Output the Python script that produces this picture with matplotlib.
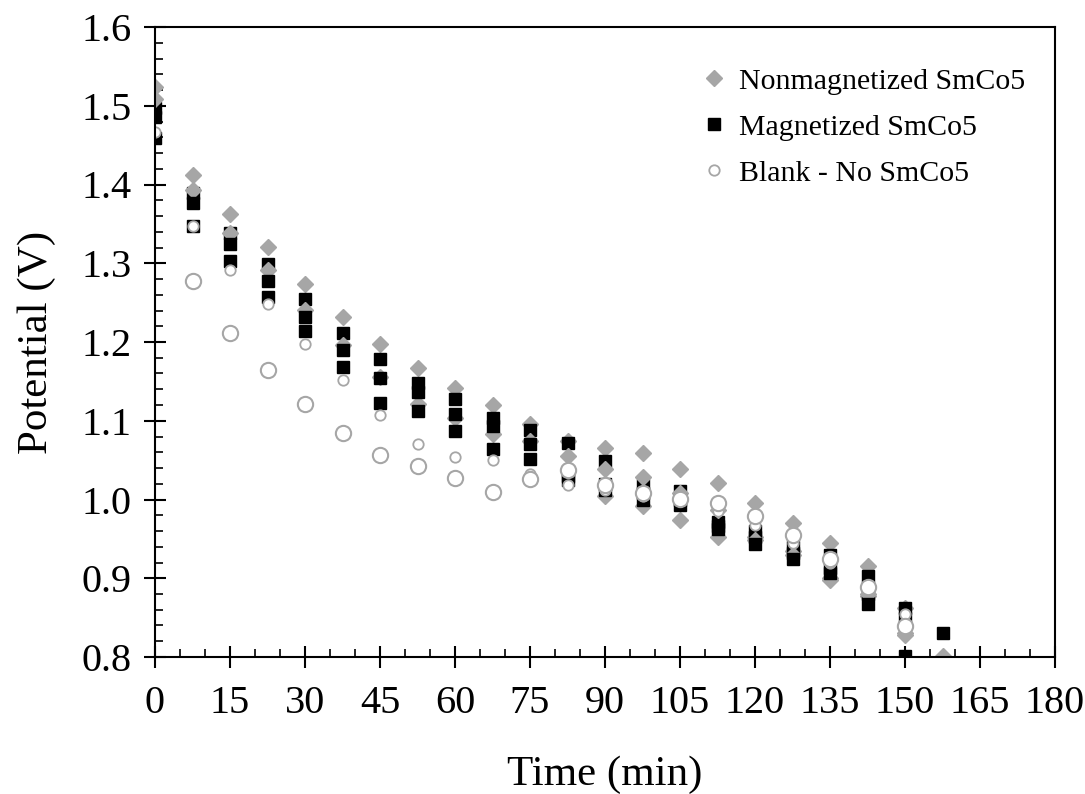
import matplotlib
matplotlib.use('Agg')
import matplotlib.pyplot as plt
import matplotlib.ticker as mticker

plt.rcParams['font.family'] = ['Liberation Serif', 'DejaVu Serif']

# time axis (min)
tempo = [0, 7.5, 15, 22.5, 30, 37.5, 45, 52.5, 60, 67.5, 75, 82.5,
         90, 97.5, 105, 112.5, 120, 127.5, 135, 142.5, 150, 157.5]

# Nonmagnetized SmCo5 (three runs)
nonmag_1 = [1.524, 1.412, 1.363, 1.321, 1.274, 1.232, 1.198, 1.167, 1.142, 1.120, 1.096,
            1.074, 1.065, 1.059, 1.039, 1.021, 0.996, 0.970, 0.945, 0.916, 0.862]
nonmag_2 = [1.509, 1.393, 1.339, 1.292, 1.241, 1.196, 1.155, 1.121, 1.104, 1.083, 1.074,
            1.055, 1.039, 1.029, 1.008, 0.987, 0.952, 0.934, 0.898, 0.877, 0.828, 0.801]
nonmag_3 = [1.005, 0.992, 0.974, 0.953, 0.948, 0.930, 0.900, 0.880, 0.830]  # from 90 min

# Magnetized SmCo5 (three runs)
mag_1 = [1.497, 1.389, 1.339, 1.299, 1.255, 1.212, 1.178, 1.148, 1.128, 1.103, 1.088,
         1.072, 1.049, 1.019, 1.011, 0.972, 0.960, 0.940, 0.930, 0.903, 0.862, 0.830]
mag_2 = [1.486, 1.376, 1.324, 1.277, 1.232, 1.190, 1.154, 1.136, 1.109, 1.093, 1.070,
         1.030, 1.020, 1.008, 1.000, 0.966, 0.952, 0.932, 0.913, 0.880, 0.850]
mag_3 = [1.459, 1.347, 1.303, 1.257, 1.214, 1.168, 1.123, 1.112, 1.087, 1.064, 1.051,
         1.025, 1.012, 0.999, 0.993, 0.962, 0.944, 0.925, 0.907, 0.867, 0.801]

# Blank - no SmCo5 (two runs)
blank_1 = [1.467, 1.347, 1.292, 1.248, 1.198, 1.152, 1.107, 1.071, 1.054, 1.050, 1.032,
           1.018, 1.012, 1.005, 0.998, 0.986, 0.968, 0.945, 0.920, 0.885, 0.855]
blank_2 = [1.277, 1.211, 1.165, 1.121, 1.085, 1.057, 1.043, 1.027, 1.010, 1.026,
           1.037, 1.019, 1.008, 1.001, 0.995, 0.979, 0.955, 0.925, 0.889, 0.840]  # from 7.5 min

cinza = '#a6a6a6'

fig = plt.figure(figsize=(10.85, 7.94), dpi=100)
ax = fig.add_axes([155 / 1085, 1 - 657 / 794, 900 / 1085, 630 / 794])

estilo_d = dict(marker='D', ms=8, color=cinza, mec=cinza, ls='none')
estilo_s = dict(marker='s', ms=8.5, color='black', mec='black', ls='none')

ax.plot(tempo[:len(nonmag_1)], nonmag_1, label='Nonmagnetized SmCo5', **estilo_d)
ax.plot(tempo[:len(mag_1)], mag_1, label='Magnetized SmCo5', **estilo_s)
ax.plot(tempo[:len(nonmag_2)], nonmag_2, **estilo_d)
ax.plot(tempo[:len(mag_2)], mag_2, **estilo_s)
ax.plot(tempo[12:12 + len(nonmag_3)], nonmag_3, **estilo_d)
ax.plot(tempo[:len(mag_3)], mag_3, **estilo_s)

ax.plot(tempo[:len(blank_1)], blank_1, marker='o', ms=7.5, mfc='white', mec=cinza,
        mew=1.3, ls='none', label='Blank - No SmCo5')
ax.plot(tempo[1:1 + len(blank_2)], blank_2, marker='o', ms=11, mfc='white', mec=cinza,
        mew=1.5, ls='none')

ax.set_xlim(0, 180)
ax.set_ylim(0.8, 1.6)
ax.xaxis.set_major_locator(mticker.MultipleLocator(15))
ax.xaxis.set_minor_locator(mticker.MultipleLocator(5))
ax.yaxis.set_major_locator(mticker.MultipleLocator(0.1))
ax.yaxis.set_minor_locator(mticker.MultipleLocator(0.02))
ax.yaxis.set_major_formatter(mticker.FormatStrFormatter('%.1f'))

ax.tick_params(which='major', direction='inout', length=16, width=1.5, labelsize=29)
ax.tick_params(which='minor', direction='in', length=6, width=1.2)
ax.tick_params(axis='x', which='major', pad=12)
ax.tick_params(axis='y', which='major', pad=9)
for sp in ax.spines.values():
    sp.set_linewidth(1.5)

ax.set_xlabel('Time (min)', fontsize=31, labelpad=24)
ax.set_ylabel('Potential (V)', fontsize=31, labelpad=18)

ax.legend(loc='upper left', bbox_to_anchor=(0.605, 0.935), frameon=False, fontsize=21.5,
          handlelength=1.0, handletextpad=0.33, labelspacing=0.64,
          borderpad=0, borderaxespad=0)

plt.savefig('out.png', dpi=100)
